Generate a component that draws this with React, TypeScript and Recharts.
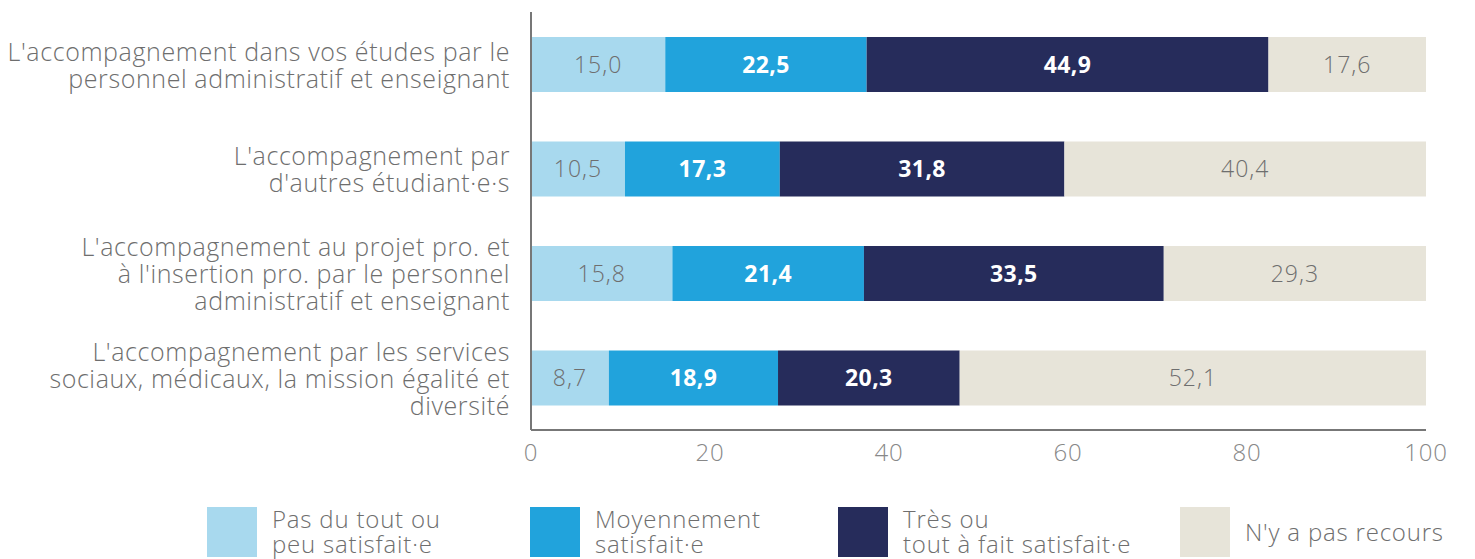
import { BarChart, Bar, XAxis, YAxis, LabelList } from "recharts";

const categories = [
  ["L'accompagnement dans vos études par le", "personnel administratif et enseignant"],
  ["L'accompagnement par", "d'autres étudiant·e·s"],
  ["L'accompagnement au projet pro. et", "à l'insertion pro. par le personnel", "administratif et enseignant"],
  ["L'accompagnement par les services", "sociaux, médicaux, la mission égalité et", "diversité"],
];

const pasDuTout = [15.0, 10.5, 15.8, 8.7];
const moyennement = [22.5, 17.3, 21.4, 18.9];
const tresSatisfait = [44.9, 31.8, 33.5, 20.3];
const pasRecours = [17.6, 40.4, 29.3, 52.1];

const xTicks = [0, 20, 40, 60, 80, 100];

const series = [
  { key: "pasDuTout", label: ["Pas du tout ou", "peu satisfait·e"], color: "#a8d9ee", text: "#6e6e6e", bold: false },
  { key: "moyennement", label: ["Moyennement", "satisfait·e"], color: "#21a3dc", text: "#ffffff", bold: true },
  { key: "tres", label: ["Très ou", "tout à fait satisfait·e"], color: "#262c5b", text: "#ffffff", bold: true },
  { key: "recours", label: ["N'y a pas recours"], color: "#e7e4d9", text: "#6e6e6e", bold: false },
];

const data = categories.map((c, i) => ({
  name: c.join("\n"),
  pasDuTout: pasDuTout[i],
  moyennement: moyennement[i],
  tres: tresSatisfait[i],
  recours: pasRecours[i],
}));

const FONT = "'Open Sans', Roboto, sans-serif";
const fmt = (v: number) => v.toFixed(1).replace(".", ",");

function CategoryTick(props: any) {
  const { x, y, payload } = props;
  const lines = String(payload.value).split("\n");
  const lh = 27;
  const start = y - ((lines.length - 1) * lh) / 2;
  return (
    <text
      x={x}
      y={start}
      textAnchor="end"
      fill="#6e6e6e"
      fontSize={25}
      letterSpacing={0.6}
      fontWeight={300}
      fontFamily={FONT}
      dominantBaseline="central"
    >
      {lines.map((l, i) => (
        <tspan key={i} x={x} y={start + i * lh} dominantBaseline="central">
          {l}
        </tspan>
      ))}
    </text>
  );
}

export default function App() {
  return (
    <div style={{ position: "relative", width: 1459, height: 551, fontFamily: FONT }}>
      <BarChart
        width={1459}
        height={551}
        data={data}
        layout="vertical"
        barCategoryGap={25}
        margin={{ top: 4, right: 41, left: 0, bottom: 89 }}
      >
        <XAxis
          type="number"
          domain={[0, 100]}
          ticks={xTicks}
          tickLine={false}
          axisLine={{ stroke: "#777", strokeWidth: 2 }}
          tick={{ fill: "#888", fontSize: 24, fontWeight: 300, fontFamily: FONT, letterSpacing: 0.8 }}
          tickMargin={8}
          height={40}
        />
        <YAxis
          type="category"
          dataKey="name"
          width={523}
          tickLine={false}
          tickSize={0}
          tickMargin={21}
          axisLine={{ stroke: "#777", strokeWidth: 2 }}
          tick={<CategoryTick />}
          interval={0}
        />
        {series.map((s) => (
          <Bar key={s.key} dataKey={s.key} stackId="a" fill={s.color} isAnimationActive={false}>
            <LabelList
              dataKey={s.key}
              position="center"
              formatter={(v: any) => fmt(Number(v))}
              fill={s.text}
              fontSize={23}
              letterSpacing={s.bold ? 0.4 : 1}
              fontWeight={s.bold ? 700 : 300}
              fontFamily={FONT}
            />
          </Bar>
        ))}
      </BarChart>
      <div style={{ position: "absolute", top: 0, left: 0, width: 1459, height: 551, pointerEvents: "none" }}>
        {series.map((s, i) => {
          const lefts = [199, 522, 830, 1172];
          return (
            <div
              key={s.key}
              style={{ position: "absolute", left: lefts[i], top: 499, display: "flex", alignItems: "center", height: 50 }}
            >
              <div style={{ width: 50, height: 50, background: s.color, marginRight: 15, flexShrink: 0 }} />
              <div
                style={{
                  color: "#6e6e6e",
                  fontSize: 24,
                  letterSpacing: 0.8,
                  fontWeight: 300,
                  lineHeight: "25px",
                  whiteSpace: "nowrap",
                  marginTop: -2,
                }}
              >
                {s.label.map((l, j) => (
                  <span key={j}>
                    {j > 0 && <br />}
                    {l}
                  </span>
                ))}
              </div>
            </div>
          );
        })}
      </div>
    </div>
  );
}
